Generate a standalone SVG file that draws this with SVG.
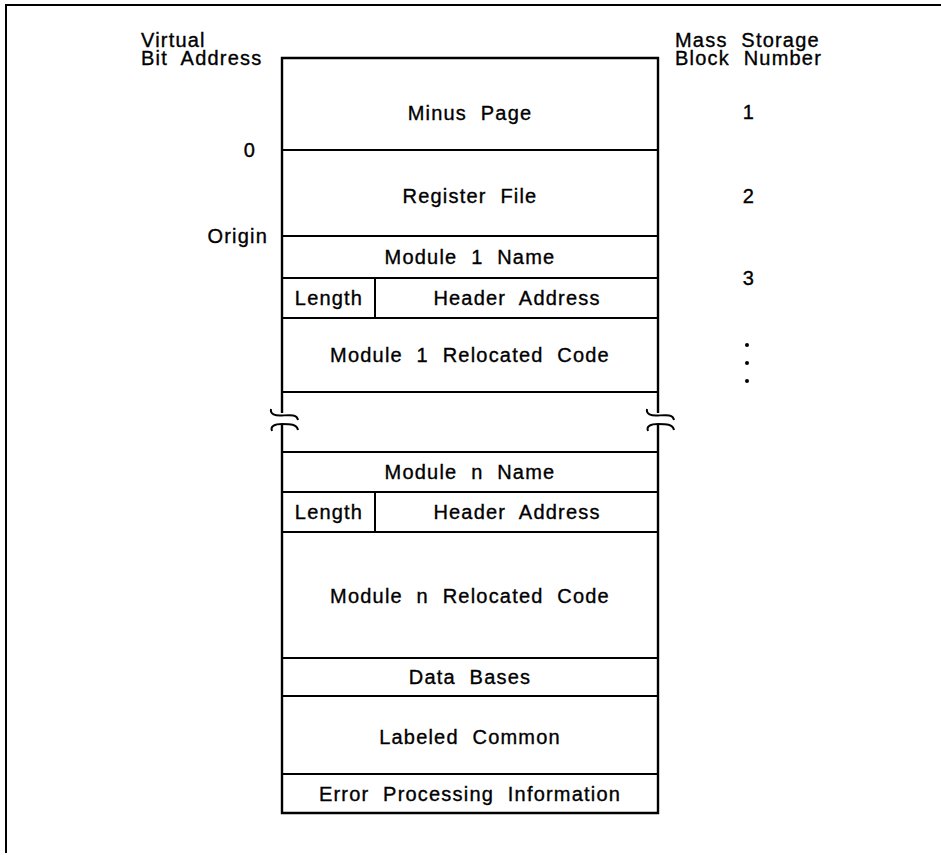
<svg xmlns="http://www.w3.org/2000/svg" width="941" height="855" viewBox="0 0 941 855">
<style>
text{font-family:"Liberation Sans",Arial,sans-serif;font-size:20px;fill:#000;stroke:#000;stroke-width:0.35;letter-spacing:1.2px;word-spacing:7px}
.c{text-anchor:middle}
.r{text-anchor:end}
.ln{stroke:#000;stroke-width:2;fill:none}
.bx{stroke:#000;stroke-width:2.4;fill:none}
</style>
<rect width="941" height="855" fill="#fff"/>
<g id="frame"><path class="ln" d="M5,5H941M6,5V853"/></g>
<g id="labels">
<text x="141" y="47">Virtual</text>
<text x="141" y="65">Bit Address</text>
<text x="675" y="47">Mass Storage</text>
<text x="675" y="65">Block Number</text>
<text class="r" x="256" y="157">0</text>
<text class="r" x="268" y="243">Origin</text>
<text class="c" x="749" y="119">1</text>
<text class="c" x="749" y="203">2</text>
<text class="c" x="749" y="285">3</text>
<circle cx="747" cy="345" r="2" fill="#000"/>
<circle cx="747" cy="363" r="2" fill="#000"/>
<circle cx="747" cy="381" r="2" fill="#000"/>
</g>
<g id="outline"><path class="bx" d="M282,413V58H658V413M282,425V813H658V425"/></g>
<g id="minus-page"><text class="c" x="470" y="120">Minus Page</text></g>
<g id="register-file"><path class="ln" d="M282,150H658"/><text class="c" x="470" y="203">Register File</text></g>
<g id="module1-name"><path class="ln" d="M282,236H658"/><text class="c" x="470" y="264">Module 1 Name</text></g>
<g id="module1-header"><path class="ln" d="M282,278H658M375,278V318"/><text class="c" x="329" y="305">Length</text><text class="c" x="517" y="305">Header Address</text></g>
<g id="module1-code"><path class="ln" d="M282,318H658"/><text class="c" x="470" y="362">Module 1 Relocated Code</text></g>
<g id="gap"><path class="ln" d="M282,392H658"/></g>
<g id="connectors">
<path class="ln" d="M271,409C270,414 275,416 282,415.5C290,415 297,414 298,420"/>
<path class="ln" d="M272,431C270,426 275,424 282,424C290,424 297,424 298,430"/>
<path class="ln" d="M647,409C646,414 651,416 658,415.5C666,415 673,414 674,420"/>
<path class="ln" d="M648,431C646,426 651,424 658,424C666,424 673,424 674,430"/>
</g>
<g id="modulen-name"><path class="ln" d="M282,452H658"/><text class="c" x="470" y="479">Module n Name</text></g>
<g id="modulen-header"><path class="ln" d="M282,492H658M375,492V532"/><text class="c" x="329" y="519">Length</text><text class="c" x="517" y="519">Header Address</text></g>
<g id="modulen-code"><path class="ln" d="M282,532H658"/><text class="c" x="470" y="603">Module n Relocated Code</text></g>
<g id="data-bases"><path class="ln" d="M282,658H658"/><text class="c" x="470" y="684">Data Bases</text></g>
<g id="labeled-common"><path class="ln" d="M282,696H658"/><text class="c" x="470" y="744">Labeled Common</text></g>
<g id="error-info"><path class="ln" d="M282,774H658"/><text class="c" x="470" y="801">Error Processing Information</text></g>
</svg>
